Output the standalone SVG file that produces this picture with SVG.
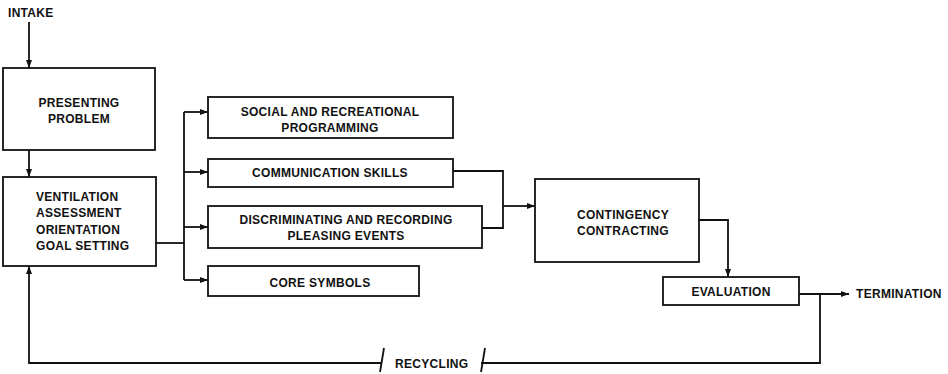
<svg xmlns="http://www.w3.org/2000/svg" width="948" height="374" viewBox="0 0 948 374">
<style>
text{font-family:"Liberation Sans",Arial,sans-serif;font-weight:bold;font-size:12px;letter-spacing:0.3px;fill:#111}
.c{text-anchor:middle}
rect{fill:#fff;stroke:#111;stroke-width:1.8}
.ln{fill:none;stroke:#111;stroke-width:1.8}
</style>
<defs>
<marker id="ah" markerWidth="8" markerHeight="6" refX="8" refY="3" orient="auto" markerUnits="userSpaceOnUse">
<path d="M0,0 L8,3 L0,6 Z" fill="#111"/>
</marker>
</defs>
<rect x="0" y="0" width="948" height="374" style="fill:#fff;stroke:none"/>
<g id="intake"><text x="8" y="17">INTAKE</text></g>
<g id="presenting">
<rect x="3" y="68" width="152" height="82"/>
<text class="c" x="79" y="107">PRESENTING</text>
<text class="c" x="79" y="123">PROBLEM</text>
</g>
<g id="ventilation">
<rect x="3" y="177" width="153" height="89"/>
<text x="36" y="201">VENTILATION</text>
<text x="36" y="217">ASSESSMENT</text>
<text x="36" y="234">ORIENTATION</text>
<text x="36" y="250">GOAL SETTING</text>
</g>
<g id="social">
<rect x="208" y="97" width="245" height="41"/>
<text class="c" x="330" y="116">SOCIAL AND RECREATIONAL</text>
<text class="c" x="330" y="132">PROGRAMMING</text>
</g>
<g id="communication">
<rect x="208" y="159" width="245" height="28"/>
<text class="c" x="330" y="177">COMMUNICATION SKILLS</text>
</g>
<g id="discriminating">
<rect x="208" y="206" width="274" height="42"/>
<text class="c" x="346" y="224">DISCRIMINATING AND RECORDING</text>
<text class="c" x="346" y="240">PLEASING EVENTS</text>
</g>
<g id="core">
<rect x="208" y="266" width="211" height="30"/>
<text class="c" x="320" y="287">CORE SYMBOLS</text>
</g>
<g id="contingency">
<rect x="535" y="179" width="164" height="83"/>
<text x="577" y="219">CONTINGENCY</text>
<text x="577" y="235">CONTRACTING</text>
</g>
<g id="evaluation">
<rect x="663" y="277" width="136" height="28"/>
<text class="c" x="731" y="296">EVALUATION</text>
</g>
<g id="termination"><text x="856" y="298">TERMINATION</text></g>
<g id="recycling"><text x="395" y="368">RECYCLING</text></g>
<g id="connectors">
<path class="ln" d="M29,22 V68" marker-end="url(#ah)"/>
<path class="ln" d="M29,150 V177" marker-end="url(#ah)"/>
<path class="ln" d="M156,243 H184"/>
<path class="ln" d="M184,112 V280"/>
<path class="ln" d="M184,112 H208" marker-end="url(#ah)"/>
<path class="ln" d="M184,172 H208" marker-end="url(#ah)"/>
<path class="ln" d="M184,227 H208" marker-end="url(#ah)"/>
<path class="ln" d="M184,280 H208" marker-end="url(#ah)"/>
<path class="ln" d="M453,171 H503 V228 H482"/>
<path class="ln" d="M503,206 H535" marker-end="url(#ah)"/>
<path class="ln" d="M699,220 H728 V277" marker-end="url(#ah)"/>
<path class="ln" d="M799,294 H849" marker-end="url(#ah)"/>
<path class="ln" d="M820,294 V363 H481"/>
<path class="ln" d="M481,372 L485,348"/>
<path class="ln" d="M382,363 H29 V266" marker-end="url(#ah)"/>
<path class="ln" d="M380,372 L384,348"/>
</g>
</svg>
